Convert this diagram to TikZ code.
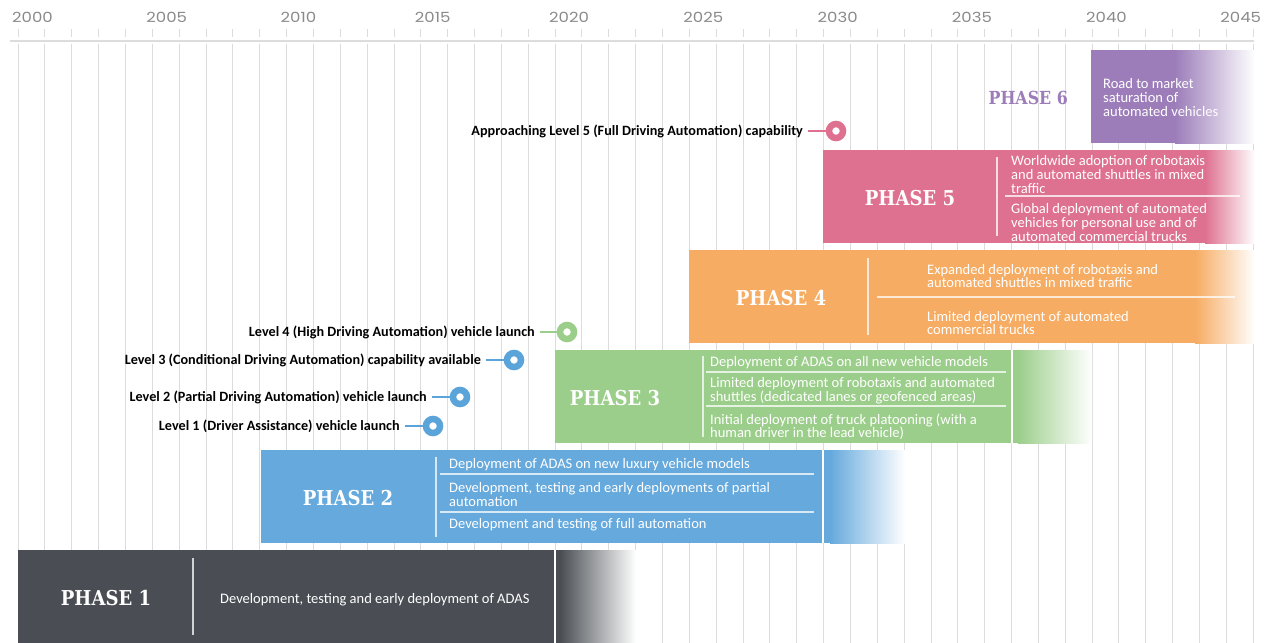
\documentclass[tikz,border=0pt]{standalone}
\usepackage{fontspec}
\setmainfont{Carlito}
\newfontfamily\phasefont[FakeStretch=0.88]{DejaVu Serif}
\newfontfamily\yearfont[FakeStretch=1.18]{Poppins}
\definecolor{phaseone}{HTML}{4A4E54}
\definecolor{phasetwo}{HTML}{66A9DD}
\definecolor{phasethree}{HTML}{9CCE8B}
\definecolor{phasefour}{HTML}{F6AC62}
\definecolor{phasefive}{HTML}{DE7190}
\definecolor{phasesix}{HTML}{9C7DBA}
\definecolor{pinblue}{HTML}{5BA4DA}
\definecolor{gridgray}{HTML}{DCDCDC}
\definecolor{yeargray}{HTML}{8A8A8A}
\tikzset{
  gridline/.style={draw=gridgray, line width=0.8},
  yearlbl/.style={anchor=west, inner sep=0, text=yeargray, font=\yearfont\fontsize{14}{14}\selectfont},
  phaselbl/.style={inner sep=0, text=white, font=\phasefont\bfseries\fontsize{20.5}{20.5}\selectfont},
  itemtext/.style={anchor=west, inner sep=0, align=left, text=white, font=\fontsize{14.5}{13.6}\selectfont},
  divider/.style={draw=white, opacity=0.75, line width=1.2},
  cutline/.style={draw=white, line width=2},
  mlabel/.style={anchor=east, inner sep=0, font=\bfseries\fontsize{14.2}{15}\selectfont},
  pinline/.style={line width=2.5, draw=#1},
  pindot/.style={circle, draw=#1, fill=white, line width=6.5, minimum size=14, inner sep=0}
}
\begin{document}
\begin{tikzpicture}[x=1pt,y=-1pt]
\useasboundingbox (0,0) rectangle (1270,643);
\fill[white] (0,0) rectangle (1270,643);
% time axis
\foreach \i in {0,...,46}{
  \draw[gridline] ({18+26.85*\i},44) -- ({18+26.85*\i},643);
  \draw[gridline] ({18+26.85*\i},29) -- ({18+26.85*\i},37);
}
\draw[draw=gridgray, line width=2] (10,41) -- (1254,41);
\foreach \y [count=\i from 0] in {2000,2005,...,2045}
  \node[yearlbl] (y\y) at ({12+134.25*\i},17) {\y};

% phase 6
\fill[phasesix] (1091,50) rectangle (1175,143);
\shade[left color=phasesix, right color=white] (1175,50) rectangle (1255,143);
\node[phaselbl, anchor=east, text=phasesix, font=\phasefont\bfseries\fontsize{18}{18}\selectfont] (ph6) at (1068,98) {PHASE 6};
\node[itemtext] (ph6a) at (1103,97.5) {Road to market\\saturation of\\automated vehicles};

% phase 5
\fill[phasefive] (823,150) rectangle (1205,243);
\shade[left color=phasefive, right color=white] (1205,150) rectangle (1255,243);
\node[phaselbl] (ph5) at (910,198) {PHASE 5};
\draw[divider] (997,157) -- (997,236);
\node[itemtext] (ph5a) at (1011,174.5) {Worldwide adoption of robotaxis\\and automated shuttles in mixed\\traffic};
\draw[divider] (1005,196) -- (1240,196);
\node[itemtext] (ph5b) at (1011,222.5) {Global deployment of automated\\vehicles for personal use and of\\automated commercial trucks};

% phase 4
\fill[phasefour] (689,250) rectangle (1195,343);
\shade[left color=phasefour, right color=white] (1195,250) rectangle (1255,343);
\node[phaselbl] (ph4) at (781,298) {PHASE 4};
\draw[divider] (868,258) -- (868,335);
\node[itemtext] (ph4a) at (927,276) {Expanded deployment of robotaxis and\\automated shuttles in mixed traffic};
\draw[divider] (877,297) -- (1235,297);
\node[itemtext] (ph4b) at (927,323) {Limited deployment of automated\\commercial trucks};

% phase 3
\fill[phasethree] (555,350) rectangle (1018,443);
\shade[left color=phasethree, right color=white] (1018,350) rectangle (1092,443);
\draw[cutline] (1012,350) -- (1012,443);
\node[phaselbl] (ph3) at (615,398) {PHASE 3};
\draw[divider] (703,356) -- (703,437);
\node[itemtext] (ph3a) at (710,362.5) {Deployment of ADAS on all new vehicle models};
\draw[divider] (706,372) -- (1006,372);
\node[itemtext] (ph3b) at (710,390.5) {Limited deployment of robotaxis and automated\\shuttles (dedicated lanes or geofenced areas)};
\draw[divider] (706,406) -- (1006,406);
\node[itemtext] (ph3c) at (710,426.5) {Initial deployment of truck platooning (with a\\human driver in the lead vehicle)};

% phase 2
\fill[phasetwo] (261,450) rectangle (830,543);
\shade[left color=phasetwo, right color=white] (830,450) rectangle (905,543);
\draw[cutline] (823,450) -- (823,543);
\node[phaselbl] (ph2) at (348,498) {PHASE 2};
\draw[divider] (436,457) -- (436,537);
\node[itemtext] (ph2a) at (449,464.5) {Deployment of ADAS on new luxury vehicle models};
\draw[divider] (440,474) -- (814,474);
\node[itemtext] (ph2b) at (449,494.5) {Development, testing and early deployments of partial\\automation};
\draw[divider] (440,512) -- (814,512);
\node[itemtext] (ph2c) at (449,524.5) {Development and testing of full automation};

% phase 1
\fill[phaseone] (18,550) rectangle (560,643);
\shade[left color=phaseone, right color=white] (560,550) rectangle (636,643);
\draw[cutline] (555,550) -- (555,643);
\node[phaselbl] (ph1) at (106,598) {PHASE 1};
\draw[divider] (193,558) -- (193,635);
\node[itemtext] (ph1a) at (220,599.5) {Development, testing and early deployment of ADAS};

% milestones
\node[mlabel] (lvl5) at (803,131) {Approaching Level 5 (Full Driving Automation) capability};
\node[mlabel] (lvl4) at (535,332) {Level 4 (High Driving Automation) vehicle launch};
\node[mlabel] (lvl3) at (481,360) {Level 3 (Conditional Driving Automation) capability available};
\node[mlabel] (lvl2) at (427,397) {Level 2 (Partial Driving Automation) vehicle launch};
\node[mlabel] (lvl1) at (400,426) {Level 1 (Driver Assistance) vehicle launch};
\coordinate (dot5) at (836,131);
\coordinate (dot4) at (567,332);
\coordinate (dot3) at (514,360);
\coordinate (dot2) at (460,397);
\coordinate (dot1) at (433,426);
\draw[pinline=phasefive] ([xshift=5]lvl5.east) -- (dot5);
\draw[pinline=phasethree] ([xshift=5]lvl4.east) -- (dot4);
\draw[pinline=pinblue] ([xshift=5]lvl3.east) -- (dot3);
\draw[pinline=pinblue] ([xshift=5]lvl2.east) -- (dot2);
\draw[pinline=pinblue] ([xshift=5]lvl1.east) -- (dot1);
\node[pindot=phasefive] (pin5) at (dot5) {};
\node[pindot=phasethree] (pin4) at (dot4) {};
\node[pindot=pinblue] (pin3) at (dot3) {};
\node[pindot=pinblue] (pin2) at (dot2) {};
\node[pindot=pinblue] (pin1) at (dot1) {};
\end{tikzpicture}
\end{document}
